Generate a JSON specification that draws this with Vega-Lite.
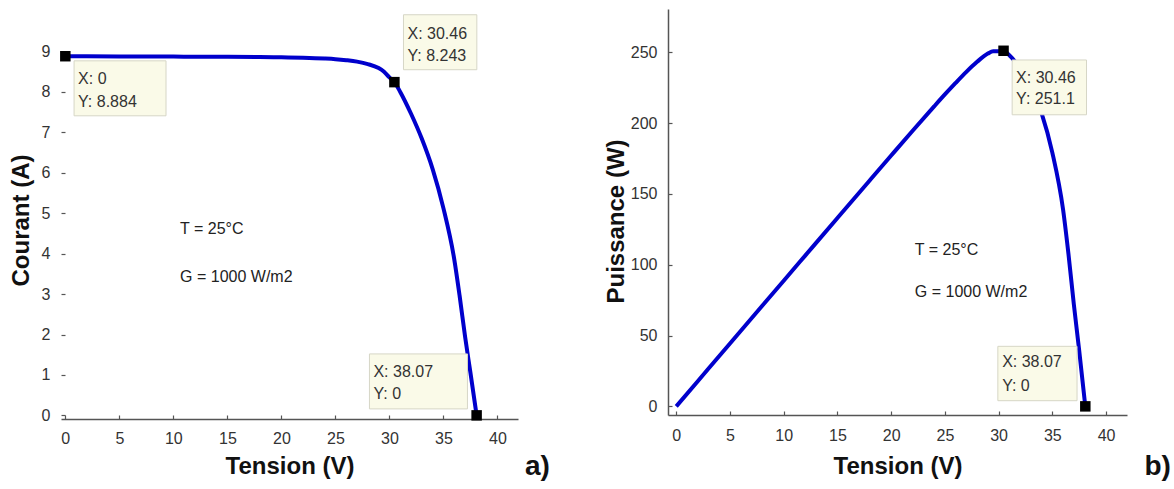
{
  "$schema": "https://vega.github.io/schema/vega-lite/v6.json",
  "padding": {"left": 9, "top": 9, "right": 0, "bottom": 0},
  "background": "white",
  "spacing": 54,
  "config": {
    "view": {"stroke": null},
    "axis": {
      "grid": false,
      "domainColor": "#555555",
      "domainWidth": 1.5,
      "tickColor": "#555555",
      "tickWidth": 1.2,
      "tickSize": -4,
      "labelFont": "Liberation Sans",
      "labelFontSize": 16,
      "labelColor": "#333333",
      "labelFlush": false,
      "labelOverlap": false,
      "titleFont": "Liberation Sans",
      "titleFontSize": 24,
      "titleFontWeight": "bold",
      "titleColor": "#111111"
    }
  },
  "datasets": {
    "curve": [
      {"V": 0, "I": 8.884, "P": 0},
      {"V": 2, "I": 8.882, "P": 17.76},
      {"V": 5, "I": 8.88, "P": 44.4},
      {"V": 8, "I": 8.877, "P": 71.02},
      {"V": 10, "I": 8.875, "P": 88.75},
      {"V": 12, "I": 8.872, "P": 106.46},
      {"V": 15, "I": 8.868, "P": 133.02},
      {"V": 18, "I": 8.862, "P": 159.52},
      {"V": 20, "I": 8.856, "P": 177.12},
      {"V": 22, "I": 8.846, "P": 194.61},
      {"V": 24, "I": 8.826, "P": 211.82},
      {"V": 25, "I": 8.81, "P": 220.25},
      {"V": 26, "I": 8.785, "P": 228.41},
      {"V": 27, "I": 8.75, "P": 236.25},
      {"V": 28, "I": 8.69, "P": 243.32},
      {"V": 29, "I": 8.59, "P": 249.11},
      {"V": 29.5, "I": 8.5, "P": 250.75},
      {"V": 30, "I": 8.36, "P": 250.8},
      {"V": 30.46, "I": 8.243, "P": 251.1},
      {"V": 31, "I": 8.0, "P": 248.0},
      {"V": 32, "I": 7.46, "P": 238.7},
      {"V": 33, "I": 6.84, "P": 225.7},
      {"V": 34, "I": 6.09, "P": 207.1},
      {"V": 35, "I": 5.12, "P": 179.2},
      {"V": 36, "I": 3.86, "P": 139.0},
      {"V": 36.5, "I": 2.95, "P": 107.7},
      {"V": 37, "I": 1.95, "P": 72.2},
      {"V": 37.5, "I": 1.05, "P": 39.4},
      {"V": 38.07, "I": 0, "P": 0}
    ],
    "tips": [
      {"panel": "a", "V": 0, "val": 8.884},
      {"panel": "a", "V": 30.46, "val": 8.243},
      {"panel": "a", "V": 38.07, "val": 0},
      {"panel": "b", "V": 30.46, "val": 251.1},
      {"panel": "b", "V": 38.07, "val": 0}
    ],
    "boxes": [
      {"panel": "a", "x1": 0.81, "x2": 9.32, "y1": 8.77, "y2": 7.41},
      {"panel": "a", "x1": 31.3, "x2": 38.09, "y1": 9.91, "y2": 8.55},
      {"panel": "a", "x1": 28.15, "x2": 37.22, "y1": 1.52, "y2": 0.16},
      {"panel": "b", "x1": 31.26, "x2": 38.18, "y1": 244.6, "y2": 205.9},
      {"panel": "b", "x1": 29.93, "x2": 37.3, "y1": 42.4, "y2": 4.0}
    ],
    "tiplabels": [
      {"panel": "a", "x": 1.18, "y": 8.32, "text": "X: 0"},
      {"panel": "a", "x": 1.18, "y": 7.76, "text": "Y: 8.884"},
      {"panel": "a", "x": 31.67, "y": 9.43, "text": "X: 30.46"},
      {"panel": "a", "x": 31.67, "y": 8.9, "text": "Y: 8.243"},
      {"panel": "a", "x": 28.52, "y": 1.07, "text": "X: 38.07"},
      {"panel": "a", "x": 28.52, "y": 0.53, "text": "Y: 0"},
      {"panel": "b", "x": 31.63, "y": 231.9, "text": "X: 30.46"},
      {"panel": "b", "x": 31.63, "y": 217.0, "text": "Y: 251.1"},
      {"panel": "b", "x": 30.33, "y": 31.1, "text": "X: 38.07"},
      {"panel": "b", "x": 30.33, "y": 14.5, "text": "Y: 0"}
    ],
    "notes": [
      {"panel": "a", "x": 10.62, "y": 4.61, "text": "T = 25°C"},
      {"panel": "a", "x": 10.62, "y": 3.42, "text": "G = 1000 W/m2"},
      {"panel": "b", "x": 22.2, "y": 110.4, "text": "T = 25°C"},
      {"panel": "b", "x": 22.2, "y": 80.7, "text": "G = 1000 W/m2"}
    ],
    "tags": [
      {"panel": "a", "x": 43.7, "y": -1.27, "text": "a)"},
      {"panel": "b", "x": 44.8, "y": -42.9, "text": "b)"}
    ]
  },
  "hconcat": [
    {
      "width": 457,
      "height": 410,
      "layer": [
        {
          "mark": {"type": "rule", "color": "#555555", "strokeWidth": 1.5},
          "encoding": {
            "x": {"datum": -0.4, "type": "quantitative"},
            "y": {"datum": -0.09, "type": "quantitative"},
            "y2": {"datum": 9.88}
          }
        },
        {
          "data": {"name": "curve"},
          "mark": {"type": "line", "color": "#0000cc", "strokeWidth": 4, "interpolate": "monotone"},
          "encoding": {
            "x": {"field": "V", "type": "quantitative",
              "scale": {"domain": [-0.4, 41.9], "nice": false, "zero": false},
              "axis": {"title": "Tension (V)", "values": [0, 5, 10, 15, 20, 25, 30, 35, 40], "labelPadding": 23, "labelBaseline": "middle", "titleBaseline": "alphabetic", "titleY": 54.5}},
            "y": {"field": "I", "type": "quantitative",
              "scale": {"domain": [-0.09, 10.052], "nice": false, "zero": false},
              "axis": {"title": "Courant (A)", "domain": false, "values": [0, 1, 2, 3, 4, 5, 6, 7, 8, 9], "labelPadding": 15, "titleBaseline": "alphabetic", "titleX": -32.5, "titleY": 211}}
          }
        },
        {
          "data": {"name": "boxes"},
          "transform": [{"filter": "datum.panel === 'a'"}],
          "mark": {"type": "rect", "fill": "#fafae8", "stroke": "#d6d6c6", "strokeWidth": 1},
          "encoding": {
            "x": {"field": "x1", "type": "quantitative"},
            "x2": {"field": "x2"},
            "y": {"field": "y1", "type": "quantitative"},
            "y2": {"field": "y2"}
          }
        },
        {
          "data": {"name": "tiplabels"},
          "transform": [{"filter": "datum.panel === 'a'"}],
          "mark": {"type": "text", "align": "left", "baseline": "middle", "font": "Liberation Sans", "fontSize": 16, "color": "#333333"},
          "encoding": {
            "x": {"field": "x", "type": "quantitative"},
            "y": {"field": "y", "type": "quantitative"},
            "text": {"field": "text"}
          }
        },
        {
          "data": {"name": "notes"},
          "transform": [{"filter": "datum.panel === 'a'"}],
          "mark": {"type": "text", "align": "left", "baseline": "middle", "font": "Liberation Sans", "fontSize": 16, "color": "#222222"},
          "encoding": {
            "x": {"field": "x", "type": "quantitative"},
            "y": {"field": "y", "type": "quantitative"},
            "text": {"field": "text"}
          }
        },
        {
          "data": {"name": "tags"},
          "transform": [{"filter": "datum.panel === 'a'"}],
          "mark": {"type": "text", "align": "center", "baseline": "middle", "font": "Liberation Sans", "fontSize": 28, "fontWeight": "bold", "color": "#111111"},
          "encoding": {
            "x": {"field": "x", "type": "quantitative"},
            "y": {"field": "y", "type": "quantitative"},
            "text": {"field": "text"}
          }
        },
        {
          "data": {"name": "tips"},
          "transform": [{"filter": "datum.panel === 'a'"}],
          "mark": {"type": "square", "filled": true, "color": "#000000", "size": 110, "opacity": 1},
          "encoding": {
            "x": {"field": "V", "type": "quantitative"},
            "y": {"field": "val", "type": "quantitative"}
          }
        }
      ]
    },
    {
      "width": 459,
      "height": 406,
      "layer": [
        {
          "data": {"name": "curve"},
          "mark": {"type": "line", "color": "#0000cc", "strokeWidth": 4, "interpolate": "monotone"},
          "encoding": {
            "x": {"field": "V", "type": "quantitative",
              "scale": {"domain": [-0.77, 41.95], "nice": false, "zero": false},
              "axis": {"title": "Tension (V)", "values": [0, 5, 10, 15, 20, 25, 30, 35, 40], "labelPadding": 24, "labelBaseline": "middle", "titleBaseline": "alphabetic", "titleY": 58.5}},
            "y": {"field": "P", "type": "quantitative",
              "scale": {"domain": [-6.1, 280.6], "nice": false, "zero": false},
              "axis": {"title": "Puissance  (W)", "values": [0, 50, 100, 150, 200, 250], "labelPadding": 15, "titleBaseline": "alphabetic", "titleX": -45, "titleY": 212}}
          }
        },
        {
          "data": {"name": "boxes"},
          "transform": [{"filter": "datum.panel === 'b'"}],
          "mark": {"type": "rect", "fill": "#fafae8", "stroke": "#d6d6c6", "strokeWidth": 1},
          "encoding": {
            "x": {"field": "x1", "type": "quantitative"},
            "x2": {"field": "x2"},
            "y": {"field": "y1", "type": "quantitative"},
            "y2": {"field": "y2"}
          }
        },
        {
          "data": {"name": "tiplabels"},
          "transform": [{"filter": "datum.panel === 'b'"}],
          "mark": {"type": "text", "align": "left", "baseline": "middle", "font": "Liberation Sans", "fontSize": 16, "color": "#333333"},
          "encoding": {
            "x": {"field": "x", "type": "quantitative"},
            "y": {"field": "y", "type": "quantitative"},
            "text": {"field": "text"}
          }
        },
        {
          "data": {"name": "notes"},
          "transform": [{"filter": "datum.panel === 'b'"}],
          "mark": {"type": "text", "align": "left", "baseline": "middle", "font": "Liberation Sans", "fontSize": 16, "color": "#222222"},
          "encoding": {
            "x": {"field": "x", "type": "quantitative"},
            "y": {"field": "y", "type": "quantitative"},
            "text": {"field": "text"}
          }
        },
        {
          "data": {"name": "tags"},
          "transform": [{"filter": "datum.panel === 'b'"}],
          "mark": {"type": "text", "align": "center", "baseline": "middle", "font": "Liberation Sans", "fontSize": 28, "fontWeight": "bold", "color": "#111111"},
          "encoding": {
            "x": {"field": "x", "type": "quantitative"},
            "y": {"field": "y", "type": "quantitative"},
            "text": {"field": "text"}
          }
        },
        {
          "data": {"name": "tips"},
          "transform": [{"filter": "datum.panel === 'b'"}],
          "mark": {"type": "square", "filled": true, "color": "#000000", "size": 110, "opacity": 1},
          "encoding": {
            "x": {"field": "V", "type": "quantitative"},
            "y": {"field": "val", "type": "quantitative"}
          }
        }
      ]
    }
  ]
}
